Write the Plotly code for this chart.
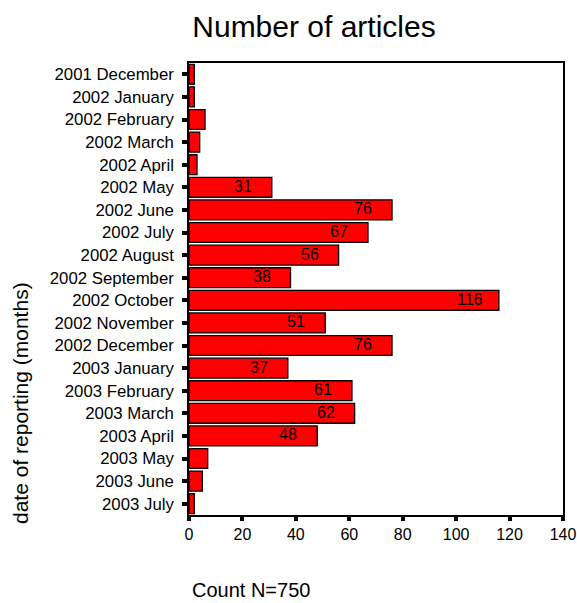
import plotly.graph_objects as go

months = ["2001 December", "2002 January", "2002 February", "2002 March", "2002 April",
          "2002 May", "2002 June", "2002 July", "2002 August", "2002 September",
          "2002 October", "2002 November", "2002 December", "2003 January",
          "2003 February", "2003 March", "2003 April", "2003 May", "2003 June", "2003 July"]
counts = [2, 2, 6, 4, 3, 31, 76, 67, 56, 38, 116, 51, 76, 37, 61, 62, 48, 7, 5, 2]
x_ticks = [0, 20, 40, 60, 80, 100, 120, 140]

FONT = "Liberation Sans, Arial, sans-serif"

fig = go.Figure(go.Bar(
    y=months, x=counts, orientation="h",
    marker=dict(color="#ff0000", line=dict(color="black", width=1.3)),
    hoverinfo="skip",
))

bar_labels = [
    dict(x=c, y=m, xref="x", yref="y", text=str(c), showarrow=False,
         xanchor="center", yanchor="middle", xshift=-29, yshift=1,
         font=dict(family=FONT, size=16, color="black"))
    for m, c in zip(months, counts) if c >= 20
]

fig.update_layout(
    width=577, height=603,
    margin=dict(l=189, r=14, t=63, b=88),
    paper_bgcolor="white", plot_bgcolor="white",
    bargap=0.12,
    showlegend=False,
    font=dict(family=FONT, size=16, color="black"),
    title=dict(text="Number of articles", x=314/577, xanchor="center", y=1-26/603, yanchor="middle",
               automargin=False,
               font=dict(family=FONT, size=30, color="black")),
    xaxis=dict(range=[0, 140], tickvals=x_ticks, showgrid=False, zeroline=False,
               automargin=False,
               showline=True, linecolor="black", linewidth=1.5, mirror=True,
               ticks="outside", ticklen=4, tickwidth=4, tickcolor="black",
               tickfont=dict(family=FONT, size=16, color="black")),
    yaxis=dict(categoryorder="array", categoryarray=months, autorange="reversed",
               showgrid=False, zeroline=False, automargin=False,
               showline=True, linecolor="black", linewidth=1.5, mirror=True,
               ticks="outside", ticklen=5, tickwidth=4, tickcolor="black",
               ticklabelstandoff=5,
               tickfont=dict(family=FONT, size=16.8, color="black")),
    annotations=bar_labels + [
        dict(text="Count N=750", xref="paper", yref="paper", x=(251-189)/374, y=-(590-515)/452,
             xanchor="center", yanchor="middle", showarrow=False,
             font=dict(family=FONT, size=20, color="black")),
        dict(text="date of reporting (months)", xref="paper", yref="paper", x=-(189-20)/374,
             y=(515-403)/452, xanchor="center", yanchor="middle", textangle=-90, showarrow=False,
             font=dict(family=FONT, size=21, color="black")),
    ],
)

fig.write_html("out.html", config={"displayModeBar": False},
               post_script="document.body.style.margin='0';document.body.style.padding='0';")
